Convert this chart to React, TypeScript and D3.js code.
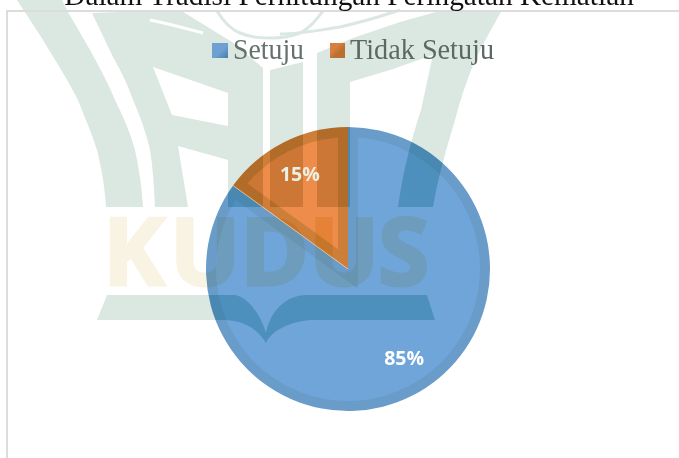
import React from "react";
import * as d3 from "d3";

const categories = ["Setuju", "Tidak Setuju"];
const values = [85, 15];
const labels = ["85%", "15%"];
const title = "Dalam Tradisi Perhitungan Peringatan Kematian";
const ringColors = ["#6a9cca", "#cd7f3a"];
const faceColors = ["#70a5d9", "#ee8c4c"];
const labelColors = ["#ffffff", "#eaf0e4"];

const W = 679, H = 458;
const cx = 348, cy = 269, R = 142, inset = 10;

const arcs = d3.pie<number>().sort(null).value((d) => d)(values);
const arcGen = d3.arc<d3.PieArcDatum<number>>().innerRadius(0).outerRadius(R);

function insetSlice(a: { startAngle: number; endAngle: number }) {
  const half = (a.endAngle - a.startAngle) / 2;
  const mid = a.startAngle + half;
  const apex = inset / Math.sin(half);
  const r = R - inset;
  const pad = Math.asin(inset / r);
  const p = d3.path();
  p.moveTo(apex * Math.sin(mid), -apex * Math.cos(mid));
  p.arc(0, 0, r, a.startAngle + pad - Math.PI / 2, a.endAngle - pad - Math.PI / 2);
  p.closePath();
  return p.toString();
}

const greenShapes = [
  // left outer arc
  "M17,0 L30,20 L43,40 C55,60 68,80 78,100 C85,118 92,134 97,150 C102,170 105,190 106,207 L143,207 C142,188 139,168 135,150 C130,132 123,116 115,100 C108,83 99,66 90,50 L68,12 L62,0 Z",
  // A-shaped mark with its two openings
  "M92,13 L150,11 L180,10 L232,42 L263,68 L263,207 L228,207 L228,160 L178,146 L188,207 L155,207 C154,188 153,168 150,150 C146,132 140,116 133,100 C128,85 121,71 113,57 Z M153,67 L228,93 L228,126 L172,115 Z",
  // central column
  "M270,70 L303,62 L303,207 L270,207 Z",
  // right column and rising band
  "M317,53 L353,38 L400,22 L443,10 L502,10 C492,28 483,44 475,60 C467,80 460,100 455,120 C446,150 438,178 433,207 L398,207 C403,172 411,140 421,110 C425,92 429,72 433,55 L390,70 L350,82 L350,207 L317,207 Z",
  // open-book bar
  "M107,295 L235,295 C250,298 262,318 266,333 C270,312 285,295 307,295 L427,295 L435,320 L310,320 C290,322 272,330 266,343 C258,330 245,320 223,320 L97,320 Z",
];
const archLines = [
  "M217,11 C225,24 232,30 240,33 C252,38 262,38 273,38 C283,38 292,36 300,33 C310,28 316,20 323,11",
  "M280,34 C300,34 320,30 340,27 C362,22 382,16 400,10",
];
const whiteStreaks = ["M150,20 C170,24 188,29 203,33"];

function GreenMark({ fill, stroke }: { fill: string; stroke: string }) {
  return (
    <g>
      {greenShapes.map((d, i) => (
        <path key={i} d={d} fill={fill} fillRule="evenodd" />
      ))}
      {archLines.map((d, i) => (
        <path key={i} d={d} fill="none" stroke={stroke} strokeWidth={3} />
      ))}
    </g>
  );
}

function Kudus({ fill }: { fill: string }) {
  return (
    <text
      x={[103, 170, 240, 309, 378].join(" ")}
      y={285}
      fontFamily="'Open Sans', sans-serif"
      fontWeight={700}
      fontSize={93}
      fill={fill}
      stroke={fill}
      strokeWidth={3}
    >
      KUDUS
    </text>
  );
}

export default function App() {
  const edge = d3
    .arc<d3.PieArcDatum<number>>()
    .innerRadius(R)
    .outerRadius(R)
    .centroid({ ...arcs[1], endAngle: arcs[1].startAngle });
  const labelPos = d3.arc<d3.PieArcDatum<number>>().innerRadius(106).outerRadius(106);

  return (
    <svg
      width={W}
      height={H}
      viewBox={`0 0 ${W} ${H}`}
      style={{ position: "absolute", left: 0, top: 0, background: "#fff" }}
    >
      <defs>
        <linearGradient id="lg0" x1="0" y1="0" x2="1" y2="1">
          <stop offset="0.55" stopColor="#6ea1d2" />
          <stop offset="1" stopColor="#3f7dab" />
        </linearGradient>
        <linearGradient id="lg1" x1="0" y1="0" x2="1" y2="1">
          <stop offset="0.35" stopColor="#d97f3e" />
          <stop offset="0.6" stopColor="#bc7030" />
        </linearGradient>
        <filter id="soft" x="-5%" y="-5%" width="110%" height="110%">
          <feGaussianBlur stdDeviation="0.6" />
        </filter>
        {arcs.map((a, i) => (
          <clipPath id={`slice${i}`} key={i}>
            <path d={arcGen(a) as string} transform={`translate(${cx},${cy})`} />
          </clipPath>
        ))}
      </defs>

      <g filter="url(#soft)">
        <GreenMark fill="#dbe8e2" stroke="#dbe8e2" />
        {whiteStreaks.map((d, i) => (
          <path key={i} d={d} fill="none" stroke="#fff" strokeWidth={3} />
        ))}
        <Kudus fill="#f8f3e3" />
      </g>

      <rect x={7} y={11} width={W + 20} height={H + 20} fill="none" stroke="#dcdcdc" strokeWidth={2} />

      <text
        x={349}
        y={5}
        textAnchor="middle"
        fontFamily="'Liberation Serif', serif"
        fontSize={29.3}
        fill="#111"
      >
        {title}
      </text>

      {/* pie */}
      <g transform={`translate(${cx},${cy})`}>
        {arcs.map((a, i) => (
          <g key={i}>
            <path d={arcGen(a) as string} fill={ringColors[i]} />
            <path d={insetSlice(a)} fill={faceColors[i]} />
          </g>
        ))}
      </g>

      {/* watermark showing through the pie */}
      <g clipPath="url(#slice0)" style={{ mixBlendMode: "multiply" }}>
        <GreenMark fill="#b0dede" stroke="#b0dede" />
        <Kudus fill="#f7f2de" />
      </g>
      <g clipPath="url(#slice1)" style={{ mixBlendMode: "multiply" }}>
        <GreenMark fill="#dcd8b4" stroke="#dcd8b4" />
        <Kudus fill="#f6ecb0" />
      </g>

      {/* slice divider */}
      <line x1={cx} y1={cy} x2={cx + edge[0]} y2={cy + edge[1]} stroke="#f0c8a8" strokeWidth={0.8} />

      {/* data labels */}
      {arcs.map((a, i) => {
        const [x, y] = labelPos.centroid(a);
        return (
          <text
            key={i}
            x={cx + x + (i === 0 ? 8 : 0)}
            y={cy + y + (i === 0 ? -5 : -1) + 7}
            textAnchor="middle"
            fontFamily="'Open Sans', sans-serif"
            fontWeight={700}
            fontSize={19.5}
            fill={labelColors[i]}
          >
            {labels[i]}
          </text>
        );
      })}

      {/* legend */}
      <rect x={212} y={43} width={16} height={15} fill="url(#lg0)" />
      <text
        x={233}
        y={59}
        textLength={71}
        lengthAdjust="spacingAndGlyphs"
        fontFamily="'Liberation Serif', serif"
        fontSize={30}
        fill="#66706c"
      >
        {categories[0]}
      </text>
      <rect x={330} y={43} width={15} height={15} fill="url(#lg1)" />
      <text
        x={350}
        y={59}
        textLength={144}
        lengthAdjust="spacingAndGlyphs"
        fontFamily="'Liberation Serif', serif"
        fontSize={30}
        fill="#5b6864"
      >
        {categories[1]}
      </text>
    </svg>
  );
}
